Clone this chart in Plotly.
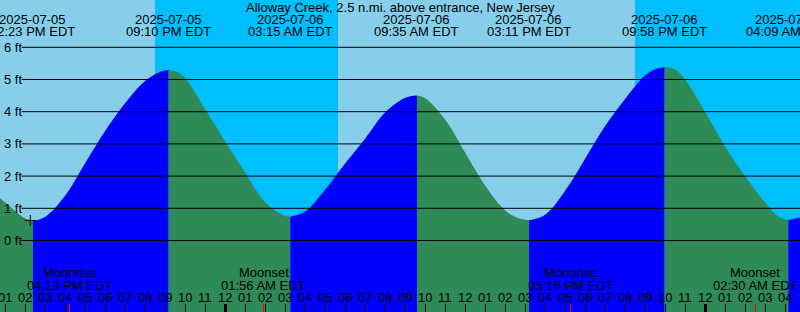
import pandas as pd
import plotly.graph_objects as go

STATION = "Alloway Creek, 2.5 n.mi. above entrance, New Jersey"

# High / low tide events
extreme_times = ["2025-07-05 14:23", "2025-07-05 21:10", "2025-07-06 03:15", "2025-07-06 09:35",
                 "2025-07-06 15:11", "2025-07-06 21:58", "2025-07-07 04:09"]
extreme_heights = [0.61, 5.30, 0.74, 4.50, 0.63, 5.38, 0.64]
extreme_date_labels = ["2025-07-05", "2025-07-05", "2025-07-06", "2025-07-06",
                       "2025-07-06", "2025-07-06", "2025-07-07"]
extreme_time_labels = ["02:23 PM EDT", "09:10 PM EDT", "03:15 AM EDT", "09:35 AM EDT",
                       "03:11 PM EDT", "09:58 PM EDT", "04:09 AM EDT"]

# Tide height readings (ft), including the extremes
curve_times = [
    "2025-07-05 12:44", "2025-07-05 13:00", "2025-07-05 14:00", "2025-07-05 14:23",
    "2025-07-05 15:00", "2025-07-05 16:00", "2025-07-05 17:00", "2025-07-05 18:00",
    "2025-07-05 19:00", "2025-07-05 20:00", "2025-07-05 20:40", "2025-07-05 21:10",
    "2025-07-05 21:40", "2025-07-05 22:00", "2025-07-05 23:00", "2025-07-06 00:00",
    "2025-07-06 01:00", "2025-07-06 02:00", "2025-07-06 03:00", "2025-07-06 03:15",
    "2025-07-06 04:00", "2025-07-06 05:00", "2025-07-06 06:00", "2025-07-06 07:00",
    "2025-07-06 08:00", "2025-07-06 09:00", "2025-07-06 09:35",
    "2025-07-06 10:00", "2025-07-06 11:00", "2025-07-06 12:00", "2025-07-06 13:00",
    "2025-07-06 14:00", "2025-07-06 14:38", "2025-07-06 15:11",
    "2025-07-06 16:00", "2025-07-06 17:00", "2025-07-06 18:00", "2025-07-06 19:00",
    "2025-07-06 20:00", "2025-07-06 21:00", "2025-07-06 21:30", "2025-07-06 21:58",
    "2025-07-06 22:30", "2025-07-06 23:00", "2025-07-07 00:00", "2025-07-07 01:00",
    "2025-07-07 02:00", "2025-07-07 03:00", "2025-07-07 03:40", "2025-07-07 04:09",
    "2025-07-07 04:45",
]
curve_heights = [
    1.31, 1.18, 0.68, 0.61,
    0.74, 1.40, 2.41, 3.41,
    4.27, 4.96, 5.22, 5.30,
    5.21, 5.04, 4.07, 3.07,
    2.10, 1.18, 0.76, 0.74,
    0.90, 1.58, 2.40, 3.17,
    3.98, 4.43, 4.50,
    4.42, 3.75, 2.72, 1.70,
    0.93, 0.70, 0.63,
    0.80, 1.55, 2.55, 3.56,
    4.40, 5.13, 5.32, 5.38,
    5.31, 4.99, 3.98, 2.90,
    1.99, 1.17, 0.74, 0.64,
    0.72,
]

# Sun (night shading)
night_starts = ["2025-07-05 20:29", "2025-07-06 20:29"]
night_ends = ["2025-07-06 05:38", "2025-07-07 05:39"]

# Moon events
moon_times = ["2025-07-05 16:13", "2025-07-06 01:56", "2025-07-06 17:16", "2025-07-07 02:30"]
moon_events = ["Moonrise", "Moonset", "Moonrise", "Moonset"]
moon_time_labels = ["04:13 PM EDT", "01:56 AM EDT", "05:16 PM EDT", "02:30 AM EDT"]

# Current-time marker
mark_time = ["2025-07-05 14:15"]
mark_height = [0.62]

grid_levels = [0, 1, 2, 3, 4, 5, 6]
grid_labels = [f"{v} ft" for v in grid_levels]

hour_ticks = pd.date_range("2025-07-05 13:00", "2025-07-07 04:00", freq="h")
hour_labels = [t.strftime("%I") for t in hour_ticks]
midnight_ticks = ["2025-07-06 00:00", "2025-07-07 00:00"]

X_RANGE = ["2025-07-05 12:44:06", "2025-07-07 04:44:06"]
Y_RANGE = [-2.2205, 7.469]
FLOOR = -3.0

DAY = "#87CEEB"
NIGHT = "#00BFFF"
RISING = "#0000FF"
FALLING = "#2E8B57"
FONT = "Liberation Sans"
H = 312

fig = go.Figure()

# Water segments between extremes
ct = pd.to_datetime(pd.Series(curve_times))
ch = pd.Series(curve_heights)
bounds = [ct.iloc[0]] + list(pd.to_datetime(extreme_times)) + [ct.iloc[-1]]
for a, b in zip(bounds[:-1], bounds[1:]):
    m = (ct >= a) & (ct <= b)
    st, sh = ct[m], ch[m]
    if len(st) < 2:
        continue
    color = RISING if sh.iloc[-1] > sh.iloc[0] else FALLING
    fig.add_trace(go.Scatter(x=[st.iloc[0], st.iloc[-1]], y=[FLOOR, FLOOR], mode="lines",
                             line=dict(width=0), showlegend=False, hoverinfo="skip"))
    fig.add_trace(go.Scatter(x=st, y=sh, mode="lines", fill="tonexty", fillcolor=color,
                             line=dict(width=0, shape="spline", color=color),
                             showlegend=False, hoverinfo="skip"))

# Marker
fig.add_trace(go.Scatter(x=mark_time, y=mark_height, mode="markers",
                         marker=dict(symbol="cross-thin", size=8,
                                     line=dict(width=1, color="black")),
                         showlegend=False, hoverinfo="skip"))

# Dummy traces for overlay tick axes
fig.add_trace(go.Scatter(x=midnight_ticks, y=[None, None], xaxis="x2", showlegend=False, hoverinfo="skip"))
fig.add_trace(go.Scatter(x=moon_times, y=[None] * len(moon_times), xaxis="x3", showlegend=False, hoverinfo="skip"))

shapes = []
for s, e in zip(night_starts, night_ends):
    shapes.append(dict(type="rect", xref="x", yref="paper", x0=s, x1=e, y0=0, y1=1,
                       fillcolor=NIGHT, line=dict(width=0), layer="below"))
for v in grid_levels:
    shapes.append(dict(type="line", xref="paper", yref="y", x0=21.7 / 800, x1=1, y0=v, y1=v,
                       line=dict(color="black", width=1)))

ann = []
def py(p):
    return 1 - p / H

ann.append(dict(text=STATION, xref="paper", yref="paper", x=0.5, y=py(7.5),
                xanchor="center", yanchor="middle", showarrow=False))
for t, d, tl in zip(extreme_times, extreme_date_labels, extreme_time_labels):
    ann.append(dict(text=d, xref="x", yref="paper", x=t, y=py(19.5), xanchor="center",
                    yanchor="middle", showarrow=False))
    ann.append(dict(text=tl, xref="x", yref="paper", x=t, y=py(32), xanchor="center",
                    yanchor="middle", showarrow=False))
for t, ev, tl in zip(moon_times, moon_events, moon_time_labels):
    ann.append(dict(text=ev, xref="x", yref="paper", x=t, y=py(272.5), xanchor="center",
                    yanchor="middle", showarrow=False))
    ann.append(dict(text=tl, xref="x", yref="paper", x=t, y=py(285), xanchor="center",
                    yanchor="middle", showarrow=False))
for t, lab in zip(hour_ticks, hour_labels):
    ann.append(dict(text=lab, xref="x", yref="paper", x=t, y=py(297.5), xanchor="center",
                    yanchor="middle", showarrow=False))
for v, lab in zip(grid_levels, grid_labels):
    ann.append(dict(text=lab, xref="paper", yref="y", x=2.5 / 800, y=v, xanchor="left",
                    yanchor="middle", showarrow=False))
for a in ann:
    a["font"] = dict(family=FONT, size=13, color="black")
    a["borderpad"] = 0

fig.update_layout(
    width=800, height=312,
    margin=dict(l=0, r=0, t=0, b=0, pad=0),
    paper_bgcolor=DAY, plot_bgcolor=DAY,
    showlegend=False,
    shapes=shapes, annotations=ann,
    font=dict(family=FONT, size=13, color="black"),
    xaxis=dict(type="date", range=X_RANGE, showgrid=False, zeroline=False, showline=False,
               tickmode="array", tickvals=list(hour_ticks),
               ticks="inside", ticklen=8, tickwidth=1, tickcolor="black",
               showticklabels=False),
    xaxis2=dict(type="date", range=X_RANGE, overlaying="x", matches="x", showgrid=False,
                zeroline=False, showline=False, tickmode="array", tickvals=midnight_ticks,
                ticks="inside", ticklen=8, tickwidth=3, tickcolor="black",
                showticklabels=False, side="bottom"),
    xaxis3=dict(type="date", range=X_RANGE, overlaying="x", matches="x", showgrid=False,
                zeroline=False, showline=False, tickmode="array", tickvals=moon_times,
                ticks="inside", ticklen=8, tickwidth=1, tickcolor="red",
                showticklabels=False, side="bottom"),
    yaxis=dict(range=Y_RANGE, showgrid=False, zeroline=False, showline=False,
               showticklabels=False, ticks=""),
)

fig.write_html("out.html")
